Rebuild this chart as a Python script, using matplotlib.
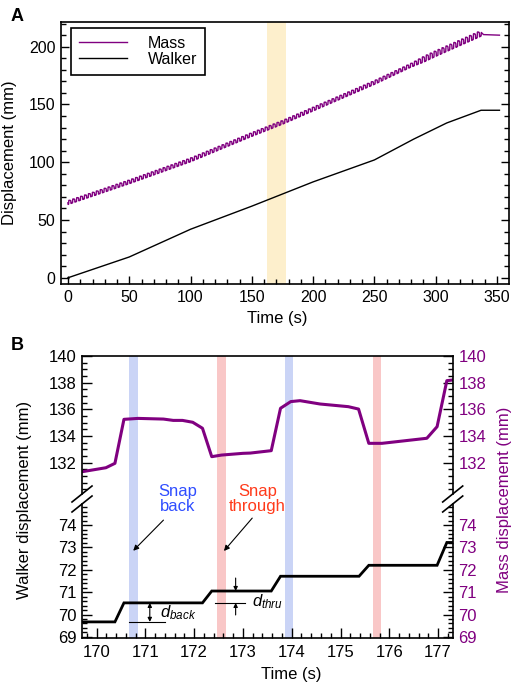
import numpy as np
import matplotlib
matplotlib.use("Agg")
import matplotlib.pyplot as plt
from matplotlib.ticker import MultipleLocator, FixedLocator
from matplotlib.lines import Line2D

plt.rcParams['font.family'] = ['Liberation Sans', 'DejaVu Sans']
plt.rcParams['mathtext.fontset'] = 'custom'
plt.rcParams['mathtext.it'] = 'Liberation Sans:italic'
plt.rcParams['mathtext.rm'] = 'Liberation Sans'

PURPLE = '#800080'

# ---------------- Panel A data ----------------
trend_t = [0, 50, 100, 150, 175, 200, 250, 300, 336, 339, 352]
trend_mass = [65, 83, 102, 124, 134.5, 146, 169, 194, 211, 210.5, 210]
walker_t = [0, 50, 100, 150, 200, 250, 282, 309, 337, 352]
walker_disp = [0, 18, 42, 62, 83, 102, 120, 134, 145, 145]
amp_t = [0, 280, 290, 330, 336, 339, 352]
amp_scale = [1.0, 1.0, 1.5, 1.5, 1.5, 0.0, 0.0]
band_A = (162.4, 177.6)
xticksA = [0, 50, 100, 150, 200, 250, 300, 350]
yticksA = [0, 50, 100, 150, 200]

# ---------------- Panel B data ----------------
b_mass_t = [169.7, 170.19, 170.375, 170.56, 170.85, 171.37, 171.57, 171.76,
            171.97, 172.17, 172.36, 172.56, 173.0, 173.15, 173.58, 173.77,
            173.98, 174.17, 174.58, 175.16, 175.37, 175.58, 175.85, 176.77,
            176.98, 177.18, 177.3]
b_mass = [131.32, 131.62, 131.95, 135.25, 135.32, 135.27, 135.17, 135.17,
          135.03, 134.58, 132.45, 132.57, 132.7, 132.72, 132.9, 136.08,
          136.58, 136.65, 136.4, 136.2, 136.02, 133.45, 133.45, 133.83,
          134.7, 138.15, 138.2]
b_walk_t = [169.7, 170.375, 170.56, 172.17, 172.36, 173.58, 173.77, 175.38,
            175.58, 176.98, 177.18, 177.3]
b_walk = [69.67, 69.67, 70.52, 70.52, 71.05, 71.05, 71.71, 71.71, 72.2, 72.2,
          73.22, 73.22]
snap_back_bands = [(170.67, 170.84), (173.86, 174.03)]
snap_thru_bands = [(172.47, 172.65), (175.67, 175.84)]
yticks_upper = [132, 134, 136, 138, 140]
yticks_lower = [69, 70, 71, 72, 73, 74]
xticksB = [170, 171, 172, 173, 174, 175, 176, 177]

# one mass oscillation cycle taken from panel B (first snap cycle)
cyc_t = np.array(b_mass_t[2:15])
cyc_v = np.array(b_mass[2:15])
period = cyc_t[-1] - cyc_t[0]
phase = cyc_t - cyc_t[0]
lin = cyc_v[0] + (cyc_v[-1] - cyc_v[0]) * phase / period
osc = cyc_v - lin
osc = osc - np.mean(osc)

t0 = cyc_t[0] % period - period
ts, os_ = [], []
k = 0
while t0 + k * period < 339:
    ts.extend(list(t0 + k * period + phase[:-1]))
    os_.extend(list(osc[:-1]))
    k += 1
ts = np.array(ts)
os_ = np.array(os_)
keep = (ts >= 0) & (ts <= 339)
ts, os_ = ts[keep], os_[keep]
massA_t = np.concatenate([[0], ts, [339, 352]])
massA = np.concatenate([[np.interp(0, trend_t, trend_mass)],
                        np.interp(ts, trend_t, trend_mass) + np.interp(ts, amp_t, amp_scale) * os_,
                        [210.5, 210]])

# ---------------- Figure ----------------
W, H = 512, 686
fig = plt.figure(figsize=(W / 100, H / 100), dpi=100)


def rect(l, t, r, b):
    return [l / W, 1 - b / H, (r - l) / W, (b - t) / H]


LABEL_FS = 12
TICK_FS = 11.5

# Panel A
axA = fig.add_axes(rect(61, 22, 509, 284))
axA.axvspan(*band_A, color='#fdefcc', lw=0, zorder=0)
axA.plot(massA_t, massA, color=PURPLE, lw=1.0, label='Mass')
axA.plot(walker_t, walker_disp, color='black', lw=1.0, label='Walker')
axA.set_xlim(-5.7, 359.8)
axA.set_ylim(-5.4, 221.4)
axA.xaxis.set_major_locator(FixedLocator(xticksA))
axA.xaxis.set_minor_locator(MultipleLocator(10))
axA.yaxis.set_major_locator(FixedLocator(yticksA))
axA.yaxis.set_minor_locator(MultipleLocator(10))
axA.tick_params(which='both', direction='in', top=False, right=True,
                labelsize=TICK_FS, width=1.0, pad=4)
axA.tick_params(which='major', length=6)
axA.tick_params(which='minor', length=3.5)
for s in axA.spines.values():
    s.set_linewidth(1.2)
axA.set_xlabel('Time (s)', fontsize=LABEL_FS)
axA.xaxis.set_label_coords(0.483, -0.104)
axA.set_ylabel('Displacement (mm)', fontsize=LABEL_FS)
axA.yaxis.set_label_coords(-0.098, 0.5)
leg = axA.legend(loc='upper left', bbox_to_anchor=(0.022, 0.977), fontsize=11.5,
                 frameon=True, fancybox=False, framealpha=1, edgecolor='black',
                 handlelength=3.0, handletextpad=1.3, borderpad=0.5,
                 labelspacing=0.05, borderaxespad=0)
leg.get_frame().set_linewidth(1.2)

# Panel B
xlimB = (169.7, 177.3)
axBG = fig.add_axes(rect(82, 356, 452.7, 638), zorder=0)
axBG.set_xlim(*xlimB)
axBG.set_ylim(0, 1)
axBG.axis('off')
for a, b in snap_back_bands:
    axBG.axvspan(a, b, color='#cad4f6', lw=0)
for a, b in snap_thru_bands:
    axBG.axvspan(a, b, color='#f9c7c7', lw=0)

axU = fig.add_axes(rect(82, 356, 452.7, 494), zorder=2)
axL = fig.add_axes(rect(82, 504, 452.7, 638), zorder=2)
for ax in (axU, axL):
    ax.set_facecolor('none')
    ax.set_xlim(*xlimB)
    for s in ax.spines.values():
        s.set_linewidth(1.2)

axU.plot(b_mass_t, b_mass, color=PURPLE, lw=2.2, solid_joinstyle='round')
axU.set_ylim(129.65, 140)
axU.yaxis.set_major_locator(FixedLocator(yticks_upper))
axU.yaxis.set_minor_locator(MultipleLocator(0.5))
axU.spines['bottom'].set_visible(False)
axU.tick_params(axis='x', which='both', bottom=False, top=False, labelbottom=False)

axL.plot(b_walk_t, b_walk, color='black', lw=2.0, solid_joinstyle='miter')
axL.set_ylim(68.95, 74.94)
axL.yaxis.set_major_locator(FixedLocator(yticks_lower))
axL.yaxis.set_minor_locator(MultipleLocator(0.2))
axL.spines['top'].set_visible(False)
axL.xaxis.set_major_locator(FixedLocator(xticksB))
axL.xaxis.set_minor_locator(MultipleLocator(0.2))
axL.tick_params(axis='x', which='both', direction='in', top=False, labelsize=12, width=1.0, pad=5)
axL.tick_params(axis='x', which='major', length=7)
axL.tick_params(axis='x', which='minor', length=3.5)

for ax in (axU, axL):
    ax.tick_params(axis='y', which='both', direction='in', left=True, right=True,
                   labelleft=True, labelright=True, labelsize=12, width=1.0, pad=4)
    ax.tick_params(axis='y', which='major', length=7)
    ax.tick_params(axis='y', which='minor', length=3.5)
    for tk in ax.yaxis.get_major_ticks():
        tk.label2.set_color(PURPLE)

axL.set_xlabel('Time (s)', fontsize=LABEL_FS)
axL.xaxis.set_label_coords(0.564, -0.215)

fig.text(25 / W, 1 - 500 / H, 'Walker displacement (mm)', rotation=90,
         ha='center', va='center', fontsize=LABEL_FS)
fig.text(505 / W, 1 - 500 / H, 'Mass displacement (mm)', rotation=90,
         ha='center', va='center', fontsize=LABEL_FS, color=PURPLE)

# break marks
for xc in (82, 452.7):
    for yc in (494, 504):
        fig.add_artist(Line2D([(xc - 10) / W, (xc + 10) / W],
                              [1 - (yc + 8) / H, 1 - (yc - 8) / H],
                              color='black', lw=1.2, transform=fig.transFigure))

# annotations
trans = axBG.get_xaxis_transform()
axBG.text(171.67, 0.493, 'Snap\nback', color='#2f4dff', fontsize=12,
          ha='center', va='center', linespacing=0.95, transform=trans)
axBG.text(173.3, 0.493, 'Snap\nthrough', color='#ff3a1a', fontsize=12,
          ha='center', va='center', linespacing=0.95, transform=trans)
axL.annotate('', xy=(170.75, 72.85), xytext=(171.37, 74.22),
             arrowprops=dict(arrowstyle='-|>', color='black', lw=0.8,
                             mutation_scale=8, shrinkA=0, shrinkB=0))
axL.annotate('', xy=(172.61, 72.84), xytext=(173.19, 74.31),
             arrowprops=dict(arrowstyle='-|>', color='black', lw=0.8,
                             mutation_scale=8, shrinkA=0, shrinkB=0))

# d_back
axL.plot([170.67, 171.40], [b_walk[0], b_walk[0]], color='black', lw=0.8)
axL.annotate('', xy=(171.09, b_walk[2]), xytext=(171.09, b_walk[0]),
             arrowprops=dict(arrowstyle='<|-|>', color='black', lw=0.8,
                             mutation_scale=6, shrinkA=0, shrinkB=0))
axL.text(171.29, 70.07, r'$d_{back}$', fontsize=12, ha='left', va='center')

# d_thru
axL.plot([172.43, 173.04], [b_walk[2], b_walk[2]], color='black', lw=0.8)
axL.annotate('', xy=(172.85, b_walk[4]), xytext=(172.85, 71.63),
             arrowprops=dict(arrowstyle='-|>', color='black', lw=0.8,
                             mutation_scale=6, shrinkA=0, shrinkB=0))
axL.annotate('', xy=(172.85, b_walk[2]), xytext=(172.85, 69.98),
             arrowprops=dict(arrowstyle='-|>', color='black', lw=0.8,
                             mutation_scale=6, shrinkA=0, shrinkB=0))
axL.text(173.18, 70.58, r'$d_{thru}$', fontsize=12, ha='left', va='center')

fig.text(17.5 / W, 1 - 16.5 / H, 'A', fontsize=13, fontweight='bold', ha='center', va='center')
fig.text(17.5 / W, 1 - 345 / H, 'B', fontsize=13, fontweight='bold', ha='center', va='center')

fig.savefig('out.png', dpi=100)
